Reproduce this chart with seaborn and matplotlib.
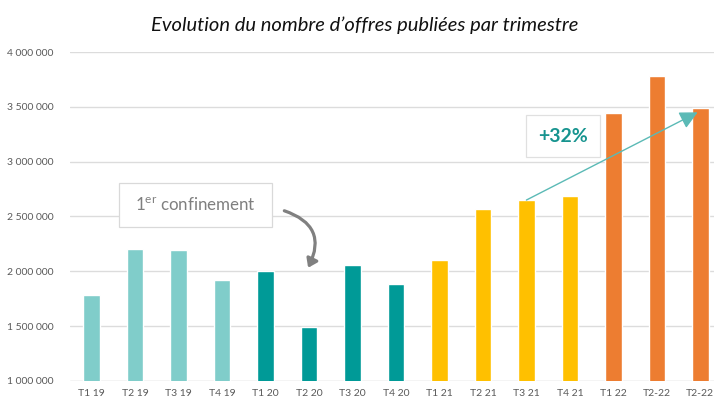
import numpy as np
import matplotlib
matplotlib.use("Agg")
import matplotlib.pyplot as plt
from matplotlib.patches import FancyArrowPatch, Rectangle
import seaborn as sns

# quarterly number of published job offers
quarters = ["T1 19", "T2 19", "T3 19", "T4 19",
            "T1 20", "T2 20", "T3 20", "T4 20",
            "T1 21", "T2 21", "T3 21", "T4 21",
            "T1 22", "T2-22", "T2-22"]
offers = [1786000, 2205000, 2193000, 1917000,
          2006000, 1494000, 2058000, 1887000,
          2104000, 2567000, 2650000, 2684000,
          3440000, 3780000, 3490000]
bar_colors = ["#80CDCA"] * 4 + ["#009A97"] * 4 + ["#FFC000"] * 4 + ["#ED7D31"] * 3
y_ticks = [1000000, 1500000, 2000000, 2500000, 3000000, 3500000, 4000000]

sns.set_theme(style="white")
plt.rcParams["font.family"] = ["Lato", "DejaVu Sans"]
plt.rcParams["mathtext.fontset"] = "custom"
plt.rcParams["mathtext.rm"] = "Lato"

fig = plt.figure(figsize=(7.14, 4.04), dpi=100)
ax = fig.add_axes([70 / 714, 1 - 381 / 404, 652 / 714, 329 / 404])

pos = [str(i) for i in range(len(offers))]
sns.barplot(x=pos, y=offers, hue=pos, palette=bar_colors, legend=False,
            saturation=1, width=0.38, ax=ax, zorder=3)

ax.set_ylim(y_ticks[0], y_ticks[-1])
ax.set_xlim(-0.5, len(offers) - 0.5)
ax.set_yticks(y_ticks)
ax.set_yticklabels([f"{v:,}".replace(",", " ") for v in y_ticks],
                   fontsize=7.5, color="#595959")
ax.set_xticks(range(len(quarters)))
ax.set_xticklabels(quarters, fontsize=7.5, color="#595959")
ax.tick_params(axis="both", length=0, pad=6)
ax.tick_params(axis="y", pad=12)
for s in ax.spines.values():
    s.set_visible(False)
for v in y_ticks:
    ax.axhline(v, color="#dcdcdc" if v > y_ticks[0] else "#c8c8c8", lw=1, zorder=1)
ax.set_xlabel("")
ax.set_ylabel("")

fig.text(365 / 714, 1 - 25 / 404, "Evolution du nombre d\u2019offres publi\u00e9es par trimestre",
         ha="center", va="center", fontsize=14.5, style="italic", color="#111111")

# "1er confinement" box
ax.add_patch(Rectangle((0.634, 2408000), 3.518, 393000, fc="white", ec="#d9d9d9",
                       lw=0.9, zorder=5))
ax.text(2.39, 2600000, r"1$^{\mathrm{er}}$ confinement", fontsize=12.2, color="#7f7f7f",
        ha="center", va="center", zorder=6)
ax.add_patch(FancyArrowPatch((4.37, 2560000), (4.95, 2010000),
                             connectionstyle="arc3,rad=-0.6",
                             arrowstyle="-|>,head_length=5,head_width=3.5",
                             color="#808080", lw=2.3, zorder=6))

# +32% box and arrow
ax.add_patch(Rectangle((10.0, 3042000), 1.70, 385000, fc="white", ec="#e0e0e0",
                       lw=0.9, zorder=5))
ax.text(10.85, 3234000, "+32%", fontsize=14, fontweight="bold", color="#17948f",
        ha="center", va="center", zorder=6)
ax.annotate("", xy=(13.94, offers[14] - 40000), xytext=(10, offers[10]),
            arrowprops=dict(arrowstyle="-|>,head_length=0.9,head_width=0.45",
                            color="#5bbab6", lw=1.0, shrinkA=0, shrinkB=0),
            zorder=7)

fig.savefig("out.png", dpi=100)
